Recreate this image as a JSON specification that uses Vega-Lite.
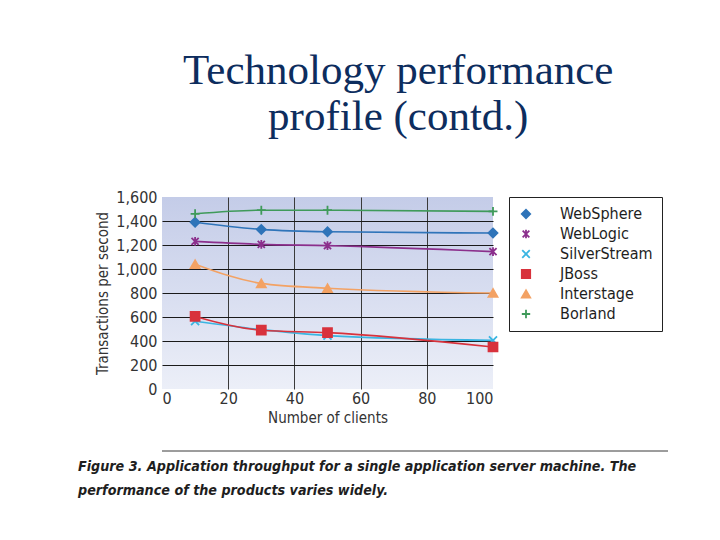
{
  "$schema": "https://vega.github.io/schema/vega-lite/v6.json",
  "background": "white",
  "padding": {"left": 78, "top": 50, "right": 0, "bottom": 0},
  "title": {
    "text": ["Technology performance", "profile (contd.)"],
    "font": "Liberation Serif",
    "fontSize": 43,
    "fontWeight": "normal",
    "color": "#0d2d5e",
    "lineHeight": 46,
    "anchor": "middle",
    "dx": 25,
    "offset": 50
  },
  "datasets": {
    "throughput": [
      {"clients": 10, "tps": 1390, "product": "WebSphere"},
      {"clients": 30, "tps": 1330, "product": "WebSphere"},
      {"clients": 50, "tps": 1310, "product": "WebSphere"},
      {"clients": 100, "tps": 1300, "product": "WebSphere"},
      {"clients": 10, "tps": 1230, "product": "WebLogic"},
      {"clients": 30, "tps": 1205, "product": "WebLogic"},
      {"clients": 50, "tps": 1195, "product": "WebLogic"},
      {"clients": 100, "tps": 1145, "product": "WebLogic"},
      {"clients": 10, "tps": 565, "product": "SilverStream"},
      {"clients": 30, "tps": 495, "product": "SilverStream"},
      {"clients": 50, "tps": 445, "product": "SilverStream"},
      {"clients": 100, "tps": 405, "product": "SilverStream"},
      {"clients": 10, "tps": 605, "product": "JBoss"},
      {"clients": 30, "tps": 490, "product": "JBoss"},
      {"clients": 50, "tps": 470, "product": "JBoss"},
      {"clients": 100, "tps": 350, "product": "JBoss"},
      {"clients": 10, "tps": 1040, "product": "Interstage"},
      {"clients": 30, "tps": 880, "product": "Interstage"},
      {"clients": 50, "tps": 840, "product": "Interstage"},
      {"clients": 100, "tps": 800, "product": "Interstage"},
      {"clients": 10, "tps": 1460, "product": "Borland"},
      {"clients": 30, "tps": 1490, "product": "Borland"},
      {"clients": 50, "tps": 1490, "product": "Borland"},
      {"clients": 100, "tps": 1480, "product": "Borland"}
    ],
    "caption": [{"note": "rule"}]
  },
  "resolve": {
    "scale": {"color": "independent", "shape": "independent", "stroke": "independent"},
    "legend": {"color": "independent", "shape": "independent", "stroke": "independent"}
  },
  "vconcat": [
    {
      "width": 331,
      "height": 192,
      "data": {"name": "throughput"},
      "view": {
        "stroke": null,
        "fill": {
          "gradient": "linear",
          "x1": 0, "y1": 0, "x2": 0, "y2": 1,
          "stops": [
            {"offset": 0, "color": "#c4cce8"},
            {"offset": 1, "color": "#eceff8"}
          ]
        }
      },
      "encoding": {
        "x": {
          "field": "clients",
          "type": "quantitative",
          "scale": {"domain": [0, 100]},
          "axis": {
            "title": "Number of clients",
            "values": [0, 20, 40, 60, 80, 100],
            "format": "d",
            "labelPadding": 1,
            "titlePadding": 4,
            "titleFontSize": 15,
            "gridColor": {"condition": {"test": "datum.value == 0 || datum.value == 100", "value": "transparent"}, "value": "#3a3a3a"}
          }
        },
        "y": {
          "field": "tps",
          "type": "quantitative",
          "scale": {"domain": [0, 1600]},
          "axis": {
            "title": "Transactions per second",
            "values": [0, 200, 400, 600, 800, 1000, 1200, 1400, 1600],
            "format": ",d",
            "labelPadding": 5,
            "titlePadding": 5,
            "titleFontSize": 15,
            "gridColor": {"condition": {"test": "datum.value == 0 || datum.value == 1600", "value": "transparent"}, "value": "#1a1a1a"}
          }
        },
        "color": {
          "field": "product",
          "type": "nominal",
          "sort": ["WebSphere", "WebLogic", "SilverStream", "JBoss", "Interstage", "Borland"],
          "scale": {
            "domain": ["WebSphere", "WebLogic", "SilverStream", "JBoss", "Interstage", "Borland"],
            "range": ["#2f74b9", "#8b2f8c", "#3ab5e2", "#d8323c", "#f3a264", "#3f9a5a"]
          },
          "legend": {
            "title": null,
            "orient": "right",
            "offset": 12,
            "strokeColor": "#222222",
            "fillColor": "white",
            "padding": 9,
            "rowPadding": 4,
            "labelOffset": 26,
            "labelFontSize": 16,
            "symbolSize": 70,
            "symbolStrokeWidth": 1.8
          }
        }
      },
      "layer": [
        {
          "mark": {"type": "line", "interpolate": "monotone", "strokeWidth": 1.6}
        },
        {
          "mark": {"type": "point", "filled": true, "size": 80, "strokeWidth": 1.8, "opacity": 1},
          "encoding": {
            "shape": {
              "field": "product",
              "type": "nominal",
              "sort": ["WebSphere", "WebLogic", "SilverStream", "JBoss", "Interstage", "Borland"],
              "scale": {
                "domain": ["WebSphere", "WebLogic", "SilverStream", "JBoss", "Interstage", "Borland"],
                "range": [
                  "diamond",
                  "M-0.8,-0.8L0.8,0.8M-0.8,0.8L0.8,-0.8M0,-1L0,1",
                  "M-0.9,-0.9L0.9,0.9M-0.9,0.9L0.9,-0.9",
                  "square",
                  "triangle-up",
                  "M-1,0L1,0M0,-1L0,1"
                ]
              },
              "legend": {"title": null}
            },
            "stroke": {
              "field": "product",
              "type": "nominal",
              "scale": {
                "domain": ["WebSphere", "WebLogic", "SilverStream", "JBoss", "Interstage", "Borland"],
                "range": ["#2f74b9", "#8b2f8c", "#3ab5e2", "#d8323c", "#f3a264", "#3f9a5a"]
              },
              "legend": null
            }
          }
        }
      ]
    },
    {
      "width": 506,
      "height": 1,
      "data": {"name": "caption"},
      "view": {"stroke": null},
      "title": {
        "text": ["Figure 3. Application throughput for a single application server machine. The", "performance of the products varies widely."],
        "orient": "bottom",
        "anchor": "start",
        "frame": "group",
        "font": "Liberation Sans Narrow, DejaVu Sans Condensed, Liberation Sans, sans-serif",
        "fontSize": 14.2,
        "fontWeight": "bold",
        "fontStyle": "italic",
        "color": "#1e1e1e",
        "lineHeight": 24,
        "offset": 8,
        "dx": -84
      },
      "mark": {"type": "rule", "color": "#3a3a3a", "strokeWidth": 1},
      "encoding": {
        "y": {"datum": 0, "type": "quantitative", "scale": {"domain": [0, 1]}, "axis": null}
      }
    }
  ],
  "spacing": 25,
  "config": {
    "font": "Liberation Sans Narrow, DejaVu Sans Condensed, Liberation Sans, sans-serif",
    "axis": {
      "domain": false,
      "ticks": false,
      "labelFontSize": 16,
      "labelColor": "#333333",
      "titleFontSize": 16,
      "titleColor": "#333333",
      "titleFontWeight": "normal",
      "gridOpacity": 1,
      "gridWidth": 1
    },
    "legend": {"labelColor": "#1e1e1e", "labelFont": "Liberation Sans Narrow, DejaVu Sans Condensed, Liberation Sans, sans-serif"}
  }
}
